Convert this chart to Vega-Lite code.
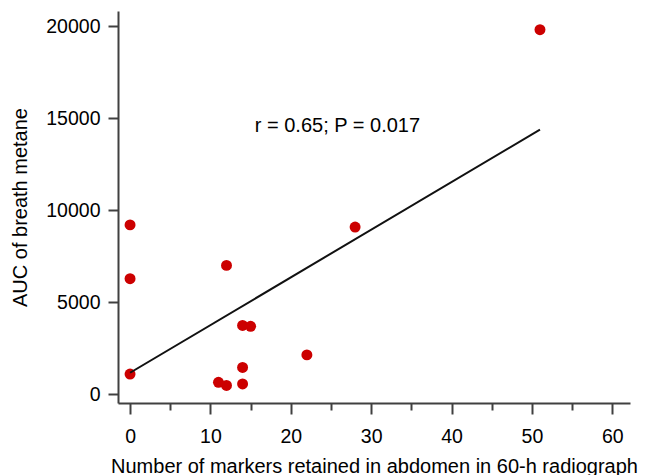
{
  "$schema": "https://vega.github.io/schema/vega-lite/v6.json",
  "width": 512,
  "height": 392,
  "autosize": {"type": "none"},
  "padding": {"left": 118, "top": 11, "right": 16, "bottom": 72},
  "background": "white",
  "config": {"view": {"stroke": null}, "font": "Liberation Sans"},
  "datasets": {
    "points": [
      {"markers": 0, "auc": 9200},
      {"markers": 0, "auc": 6280},
      {"markers": 0, "auc": 1100},
      {"markers": 11, "auc": 650},
      {"markers": 12, "auc": 7000},
      {"markers": 12, "auc": 480},
      {"markers": 14, "auc": 3740},
      {"markers": 14, "auc": 1460},
      {"markers": 14, "auc": 560},
      {"markers": 15, "auc": 3690},
      {"markers": 22, "auc": 2140},
      {"markers": 28, "auc": 9080},
      {"markers": 51, "auc": 19800}
    ],
    "annotation": [
      {"markers": 25.8, "auc": 14560, "label": "r = 0.65; P = 0.017"}
    ]
  },
  "layer": [
    {
      "data": {"name": "points"},
      "mark": {"type": "circle", "size": 120, "color": "#cc0000", "opacity": 1},
      "encoding": {
        "x": {
          "field": "markers",
          "type": "quantitative",
          "scale": {"domain": [-1.5, 62.2], "nice": false, "zero": false},
          "axis": {
            "title": "Number of markers retained in abdomen in 60-h radiograph",
            "values": [0, 5, 10, 15, 20, 25, 30, 35, 40, 45, 50, 55, 60],
            "tickSize": {"condition": {"test": "datum.value % 10 === 0", "value": 11}, "value": 7},
            "labelExpr": "datum.value % 10 === 0 ? datum.label : ''",
            "grid": false,
            "domainColor": "#404040",
            "domainWidth": 2,
            "tickColor": "#404040",
            "tickWidth": 2,
            "labelFontSize": 19.5,
            "labelColor": "#000000",
            "labelPadding": 13,
            "labelFlush": false,
            "labelOverlap": false,
            "titleFontSize": 20,
            "titleFontWeight": "normal",
            "titleColor": "#000000",
            "titleY": 69,
            "titleBaseline": "alphabetic"
          }
        },
        "y": {
          "field": "auc",
          "type": "quantitative",
          "scale": {"domain": [-473, 20815], "nice": false, "zero": false},
          "axis": {
            "title": "AUC of breath metane",
            "values": [0, 5000, 10000, 15000, 20000],
            "format": "d",
            "tickSize": 10,
            "grid": false,
            "domainColor": "#404040",
            "domainWidth": 2,
            "tickColor": "#404040",
            "tickWidth": 2,
            "labelFontSize": 19.5,
            "labelColor": "#000000",
            "labelPadding": 8,
            "labelFlush": false,
            "labelOverlap": false,
            "titleFontSize": 20,
            "titleFontWeight": "normal",
            "titleColor": "#000000",
            "titleX": -98,
            "titleBaseline": "middle"
          }
        }
      }
    },
    {
      "data": {"name": "points"},
      "transform": [{"regression": "auc", "on": "markers"}],
      "mark": {"type": "line", "color": "#111111", "strokeWidth": 2},
      "encoding": {
        "x": {"field": "markers", "type": "quantitative"},
        "y": {"field": "auc", "type": "quantitative"}
      }
    },
    {
      "data": {"name": "annotation"},
      "mark": {"type": "text", "fontSize": 20, "align": "center", "baseline": "middle", "color": "#000000"},
      "encoding": {
        "x": {"field": "markers", "type": "quantitative"},
        "y": {"field": "auc", "type": "quantitative"},
        "text": {"field": "label"}
      }
    }
  ]
}
